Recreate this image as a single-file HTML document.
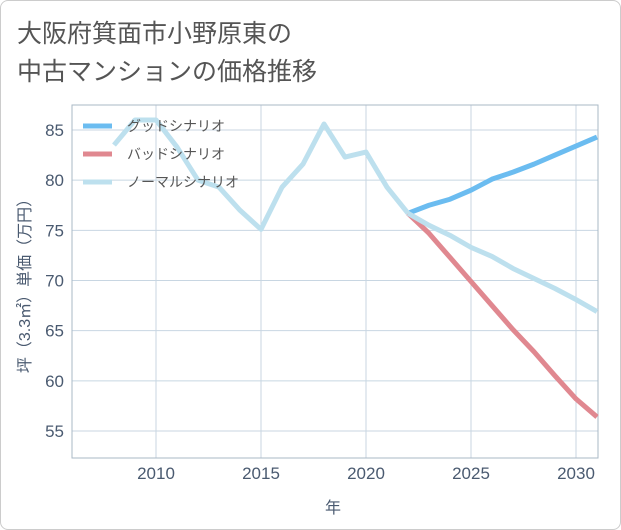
<!DOCTYPE html>
<html><head><meta charset="utf-8"><style>
body{margin:0;background:#fff;}
#wrap{position:relative;width:619px;height:528px;border:1px solid #ccc;border-radius:8px;background:#fff;overflow:hidden;}
.t{position:absolute;left:16px;font:25px "Liberation Sans","Noto Sans CJK JP",sans-serif;color:#555;}
</style></head><body>
<div id="wrap">
<div class="t" style="top:13px">大阪府箕面市小野原東の</div>
<div class="t" style="top:51px">中古マンションの価格推移</div>
<svg id="c" width="621" height="530" style="position:absolute;left:-1px;top:-1px"></svg>
</div>
<script>
const years=[2008,2009,2010,2011,2012,2013,2014,2015,2016,2017,2018,2019,2020,2021,2022];
const normalHist=[83.5,86,86,83.3,80,79.3,77,75.1,79.3,81.6,85.6,82.3,82.8,79.3,76.7];
const futYears=[2022,2023,2024,2025,2026,2027,2028,2029,2030,2031];
const good=[76.7,77.5,78.1,79,80.1,80.8,81.6,82.5,83.4,84.3];
const bad=[76.7,74.7,72.3,69.9,67.5,65.1,62.9,60.5,58.2,56.4];
const normal=[76.7,75.5,74.5,73.3,72.4,71.2,70.2,69.2,68.1,66.9];
const xTicks=[2010,2015,2020,2025,2030];
const yTicks=[55,60,65,70,75,80,85];
const L=72,R=598,T=105,B=458;
const x=v=>L+(v-2006)*21;
const y=v=>130+(85-v)*10.033;
const s=document.getElementById('c');const NS='http://www.w3.org/2000/svg';
function mk(t,a,p){const e=document.createElementNS(NS,t);for(const k in a)e.setAttribute(k,a[k]);(p||s).appendChild(e);return e;}
const font='"Liberation Sans","Noto Sans CJK JP",sans-serif';
xTicks.forEach(v=>{const l=mk('line',{x1:x(v),x2:x(v),y1:T,y2:B,stroke:'#c8d6e2','stroke-width':1});

const t=mk('text',{x:x(v),y:479,'text-anchor':'middle','font-size':17,fill:'#4a5a70','font-family':font});t.textContent=v;
});
yTicks.forEach(v=>{const l=mk('line',{x1:L,x2:R,y1:y(v),y2:y(v),stroke:'#c8d6e2','stroke-width':1});

const t=mk('text',{x:64,y:y(v)+6,'text-anchor':'end','font-size':17,fill:'#4a5a70','font-family':font});t.textContent=v;
});
const fr=mk('rect',{x:L,y:T,width:R-L,height:B-T,fill:'none',stroke:'#aab8c6','stroke-width':1});

function line(xs,vs,col,name){const p=mk('polyline',{points:xs.map((v,i)=>x(v)+','+y(vs[i])).join(' '),fill:'none',stroke:col,'stroke-width':5,'stroke-linejoin':'round'});
}
line(futYears,good,'#6bbcf0','good-scenario-line');
line(futYears,bad,'#e08890','bad-scenario-line');
line(futYears,normal,'#bde0ee','normal-scenario-line');
line(years,normalHist,'#bde0ee','history-line');
const leg=[['グッドシナリオ','#6bbcf0'],['バッドシナリオ','#e08890'],['ノーマルシナリオ','#bde0ee']];
leg.forEach((d,i)=>{const yy=126+i*28;
const l=mk('line',{x1:83,x2:112,y1:yy,y2:yy,stroke:d[1],'stroke-width':5});
const t=mk('text',{x:127,y:yy+5,'font-size':14,fill:'#555','font-family':font});t.textContent=d[0];
});
const xt=mk('text',{x:333,y:513,'text-anchor':'middle','font-size':16,fill:'#4a5a70','font-family':font});xt.textContent='年';

const yt=mk('text',{x:0,y:0,'text-anchor':'middle','font-size':16,fill:'#4a5a70','font-family':font,transform:'translate(30,282) rotate(-90)'});yt.textContent='坪（3.3㎡）単価（万円）';

</script>
</body></html>
